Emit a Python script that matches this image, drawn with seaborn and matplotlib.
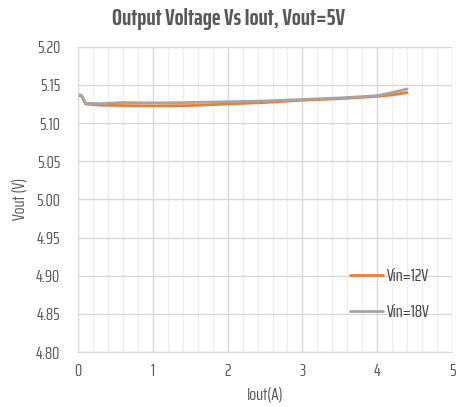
import numpy as np
import pandas as pd
import seaborn as sns
import matplotlib.pyplot as plt
from matplotlib.ticker import MultipleLocator

# Values
iout = [0.0, 0.05, 0.1, 0.3, 0.6, 1.0, 1.5, 2.0, 2.5, 3.0, 3.5, 4.0, 4.2, 4.4]
vout_12v = [5.137, 5.135, 5.125, 5.1235, 5.123, 5.1226, 5.123, 5.125, 5.127, 5.130, 5.132, 5.135, 5.137, 5.140]
vout_18v = [5.138, 5.136, 5.126, 5.1255, 5.127, 5.1265, 5.127, 5.128, 5.129, 5.131, 5.133, 5.136, 5.140, 5.1447]
series_names = ['Vin=12V', 'Vin=18V']
colors = ['#ED7D31', '#A5A5A5']

df = pd.concat([
    pd.DataFrame({'Iout': iout, 'Vout': vout_12v, 'Vin': series_names[0]}),
    pd.DataFrame({'Iout': iout, 'Vout': vout_18v, 'Vin': series_names[1]}),
])

sns.set_style('white')
plt.rcParams['font.family'] = ['Saira ExtraCondensed', 'DejaVu Sans']

fig = plt.figure(figsize=(4.57, 4.07), dpi=100)
ax = fig.add_axes([0.171, 0.135, 0.818, 0.75])

sns.lineplot(data=df, x='Iout', y='Vout', hue='Vin', palette=colors,
             linewidth=2, ax=ax, legend=True)

ax.set_xlim(0, 5)
ax.set_ylim(4.80, 5.20)
ax.xaxis.set_major_locator(MultipleLocator(1))
ax.xaxis.set_minor_locator(MultipleLocator(0.2))
ax.yaxis.set_major_locator(MultipleLocator(0.05))
ax.yaxis.set_major_formatter(plt.FormatStrFormatter('%.2f'))
ax.grid(which='major', color='#D9D9D9', linewidth=1)
ax.grid(which='minor', axis='x', color='#EFEFEF', linewidth=1)
ax.set_axisbelow(True)

for side in ['top', 'right']:
    ax.spines[side].set_visible(False)
for side in ['left', 'bottom']:
    ax.spines[side].set_color('#D9D9D9')

ax.tick_params(axis='both', which='both', length=0, labelsize=13, colors='#595959')
ax.tick_params(axis='y', pad=13)
ax.tick_params(axis='x', pad=8)

ax.set_xlabel('Iout(A)', fontsize=13, color='#595959', labelpad=5)
ax.set_ylabel('Vout (V)', fontsize=13, color='#595959', labelpad=6)
fig.text(0.5, 0.98, 'Output Voltage Vs Iout, Vout=5V', fontsize=17, fontweight='bold',
         color='#595959', ha='center', va='top')

leg = ax.legend(loc='center left', bbox_to_anchor=(0.685, 0.19), frameon=False,
                fontsize=13, handlelength=1.8, handletextpad=0.2, labelspacing=1.1)
for t in leg.get_texts():
    t.set_color('#404040')

fig.savefig('out.png', dpi=100)
